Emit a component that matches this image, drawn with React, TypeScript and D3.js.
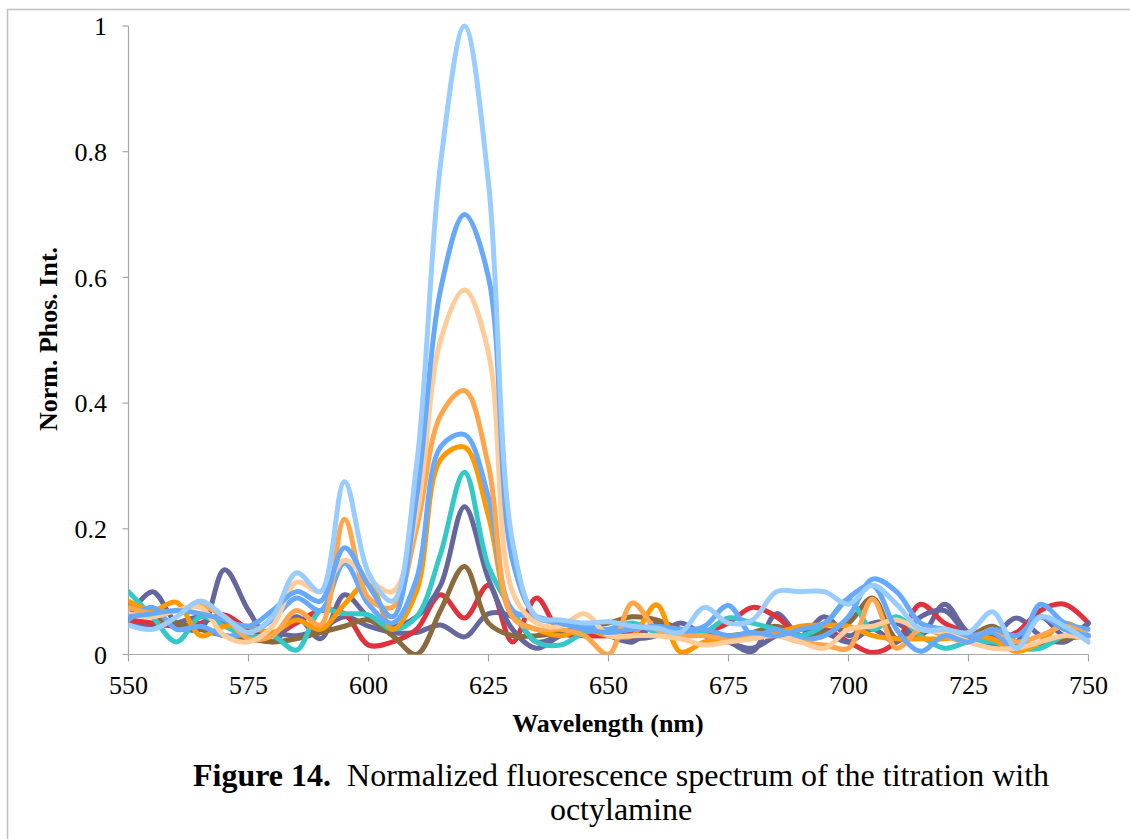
import React from "react";
import * as d3 from "d3";

const wavelengths: number[] = d3.range(550, 751, 5);

const xTicks = [550, 575, 600, 625, 650, 675, 700, 725, 750];
const yTicks = [0, 0.2, 0.4, 0.6, 0.8, 1];
const yTickLabels = ["0", "0.2", "0.4", "0.6", "0.8", "1"];

const slateB = [0.055,0.045,0.05,0.06,0.05,0.04,0.035,0.03,0.04,0.06,0.045,0.035,0.035,0.047,0.028,0.065,0.06,0.02,0.03,0.035,0.03,0.025,0.03,0.05,0.03,0.02,0.005,0.065,0.03,0.06,0.03,0.05,0.05,0.03,0.08,0.035,0.03,0.058,0.03,0.02,0.05];
const red = [0.055,0.05,0.045,0.05,0.063,0.04,0.03,0.05,0.07,0.065,0.015,0.02,0.04,0.095,0.058,0.11,0.02,0.09,0.035,0.03,0.03,0.035,0.045,0.03,0.035,0.05,0.075,0.06,0.03,0.04,0.02,0.003,0.02,0.08,0.05,0.035,0.025,0.035,0.07,0.08,0.05];
const slateA = [0.06,0.1,0.05,0.04,0.135,0.07,0.02,0.06,0.025,0.095,0.06,0.045,0.06,0.11,0.235,0.12,0.04,0.01,0.03,0.04,0.03,0.02,0.05,0.04,0.035,0.02,0.01,0.03,0.04,0.035,0.02,0.04,0.02,0.06,0.07,0.03,0.015,0.02,0.06,0.03,0.05];
const brown = [0.08,0.06,0.05,0.04,0.03,0.025,0.02,0.025,0.035,0.045,0.055,0.03,0.0,0.07,0.14,0.05,0.03,0.03,0.035,0.045,0.05,0.06,0.055,0.04,0.03,0.03,0.035,0.045,0.03,0.035,0.05,0.09,0.025,0.035,0.04,0.03,0.045,0.02,0.015,0.025,0.03];
const teal = [0.1,0.06,0.02,0.06,0.045,0.028,0.03,0.007,0.07,0.065,0.063,0.04,0.06,0.16,0.29,0.14,0.07,0.02,0.015,0.035,0.04,0.05,0.035,0.03,0.035,0.058,0.05,0.04,0.03,0.047,0.087,0.04,0.06,0.03,0.01,0.02,0.02,0.01,0.01,0.03,0.03];
const orange = [0.085,0.07,0.083,0.03,0.045,0.045,0.035,0.055,0.04,0.08,0.115,0.04,0.1,0.31,0.33,0.22,0.06,0.04,0.03,0.04,0.03,0.03,0.079,0.004,0.02,0.025,0.03,0.035,0.045,0.047,0.045,0.03,0.025,0.025,0.025,0.03,0.025,0.005,0.02,0.05,0.03];
const blueLow = [0.055,0.075,0.04,0.045,0.03,0.035,0.055,0.09,0.07,0.145,0.08,0.05,0.12,0.33,0.35,0.25,0.07,0.06,0.05,0.045,0.04,0.045,0.04,0.035,0.045,0.078,0.03,0.04,0.025,0.03,0.06,0.12,0.1,0.05,0.04,0.03,0.035,0.01,0.08,0.05,0.04];
const lightOrange = [0.075,0.065,0.07,0.078,0.06,0.025,0.03,0.07,0.047,0.215,0.09,0.075,0.2,0.38,0.42,0.3,0.06,0.04,0.04,0.03,0.0,0.082,0.04,0.03,0.03,0.025,0.03,0.03,0.02,0.015,0.01,0.088,0.01,0.04,0.03,0.02,0.04,0.02,0.03,0.045,0.03];
const peach = [0.065,0.06,0.07,0.075,0.03,0.02,0.045,0.115,0.1,0.15,0.12,0.1,0.22,0.5,0.58,0.48,0.1,0.05,0.045,0.065,0.03,0.03,0.03,0.025,0.015,0.02,0.025,0.03,0.02,0.01,0.04,0.045,0.055,0.04,0.035,0.02,0.01,0.01,0.02,0.03,0.025];
const blueHigh = [0.06,0.065,0.07,0.065,0.055,0.045,0.07,0.1,0.085,0.17,0.11,0.06,0.25,0.58,0.7,0.6,0.15,0.06,0.05,0.04,0.035,0.04,0.045,0.04,0.04,0.03,0.035,0.03,0.04,0.05,0.09,0.11,0.04,0.005,0.03,0.02,0.04,0.03,0.06,0.04,0.03];
const lightBlue = [0.047,0.04,0.06,0.085,0.06,0.035,0.06,0.13,0.1,0.275,0.13,0.085,0.3,0.78,1.0,0.75,0.18,0.06,0.055,0.05,0.052,0.045,0.042,0.035,0.075,0.05,0.055,0.1,0.1,0.1,0.08,0.11,0.08,0.04,0.04,0.035,0.068,0.01,0.06,0.045,0.02];

const seriesValues = [slateB, red, slateA, brown, teal, orange, blueLow, lightOrange, peach, blueHigh, lightBlue];
const seriesColors = ["#67679f", "#e0323c", "#66669e", "#8b6b3b", "#33c9c6", "#ff9900", "#66aaff", "#ffa64d", "#ffcc99", "#66a9fb", "#99ccff"];

export default function App() {
  const x = d3.scaleLinear().domain([550, 750]).range([128.5, 1088.5]);
  const y = d3.scaleLinear().domain([0, 1]).range([654.5, 26]);
  const line = d3
    .line<number>()
    .x((_, i) => x(wavelengths[i]))
    .y((d) => y(d))
    .curve(d3.curveCatmullRom.alpha(0.5));

  const serif = "'Liberation Serif', 'Times New Roman', serif";
  const axisColor = "#a6a6a6";

  return (
    <svg
      width={1130}
      height={839}
      style={{ position: "absolute", left: 0, top: 0, background: "#fff" }}
      fontFamily={serif}
    >
      <rect x={7.5} y={9.5} width={1200} height={900} fill="none" stroke="#bfbfbf" strokeWidth={1.5} />
      <defs>
        <clipPath id="plotClip">
          <rect x={128.5} y={18} width={962} height={636.5} />
        </clipPath>
      </defs>

      {/* axes */}
      <line x1={x(550)} x2={x(550)} y1={y(1)} y2={y(0)} stroke={axisColor} strokeWidth={1.2} />
      <line x1={x(550)} x2={x(750)} y1={y(0)} y2={y(0)} stroke={axisColor} strokeWidth={1.2} />
      {yTicks.map((t, i) => (
        <g key={"yt" + i}>
          <line x1={x(550) - 6} x2={x(550)} y1={y(t)} y2={y(t)} stroke={axisColor} strokeWidth={1.2} />
          <text x={107} y={y(t)} dy="0.35em" textAnchor="end" fontSize={26} fill="#000">
            {yTickLabels[i]}
          </text>
        </g>
      ))}
      {xTicks.map((t) => (
        <g key={"xt" + t}>
          <line x1={x(t)} x2={x(t)} y1={y(0)} y2={y(0) + 7} stroke={axisColor} strokeWidth={1.2} />
          <text x={x(t)} y={694} textAnchor="middle" fontSize={26} fill="#000">
            {t}
          </text>
        </g>
      ))}

      {/* series */}
      <g clipPath="url(#plotClip)">
        {seriesValues.map((vals, i) => (
          <path
            key={"s" + i}
            d={line(vals) || ""}
            fill="none"
            stroke={seriesColors[i]}
            strokeWidth={5}
            strokeLinejoin="round"
            strokeLinecap="round"
          />
        ))}
      </g>

      {/* axis titles */}
      <text x={608} y={732} textAnchor="middle" fontSize={26} fontWeight="bold" fill="#000">
        Wavelength (nm)
      </text>
      <text
        transform={`translate(57,339) rotate(-90)`}
        textAnchor="middle"
        fontSize={26}
        fontWeight="bold"
        fill="#000"
      >
        Norm. Phos. Int.
      </text>

      {/* caption */}
      <text x={621} y={786} textAnchor="middle" fontSize={32} fill="#000">
        <tspan fontWeight="bold">Figure 14.</tspan>
        <tspan>{"\u00a0 Normalized fluorescence spectrum of the titration with"}</tspan>
      </text>
      <text x={621} y={820} textAnchor="middle" fontSize={32} fill="#000">
        octylamine
      </text>
    </svg>
  );
}
